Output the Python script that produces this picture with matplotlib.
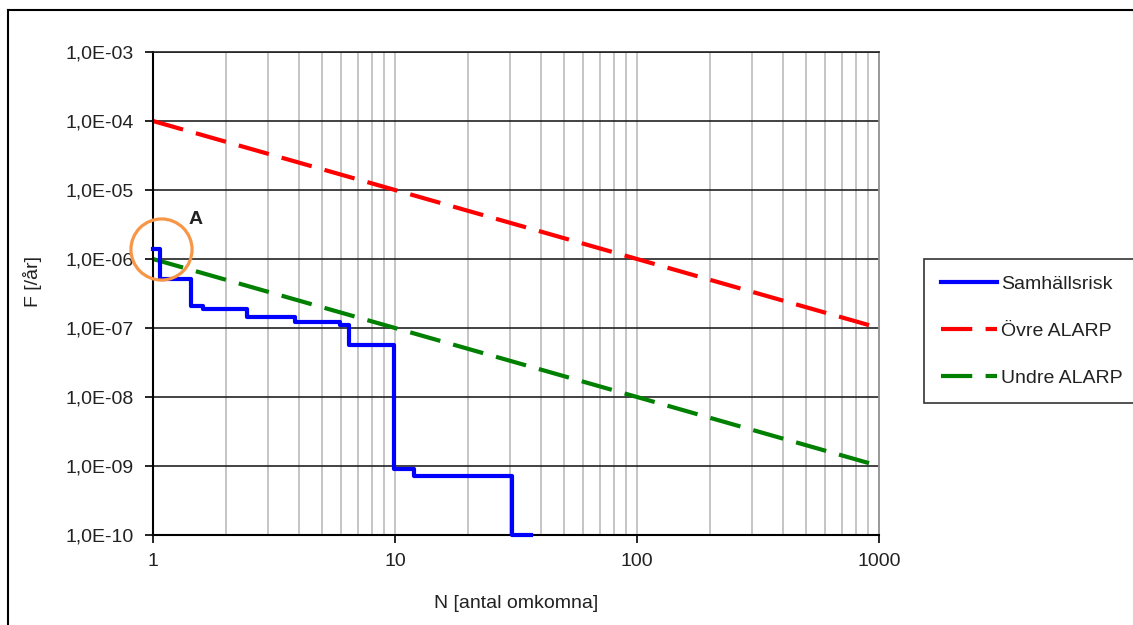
import numpy as np
import matplotlib.pyplot as plt
from matplotlib.lines import Line2D
from matplotlib.ticker import FixedLocator, FuncFormatter, NullLocator

plt.rcParams['font.family'] = ['Liberation Sans', 'DejaVu Sans']

# Samhällsrisk step curve (N edges, F per step)
risk_N = [1.0, 1.07, 1.44, 1.61, 2.44, 3.86, 5.93, 6.45, 9.9, 12.0, 30.3, 36.4]
risk_F = [1.38e-6, 5.1e-7, 2.1e-7, 1.86e-7, 1.46e-7, 1.22e-7, 1.1e-7, 5.6e-8,
          9.1e-10, 7.2e-10, 1.0e-10]

# ALARP limits
alarp_N = [1, 1000]
upper_F = [1e-4, 1e-7]
lower_F = [1e-6, 1e-9]

# marked point "A"
point_A = (1.079, 1.40e-6)
label_A = (1.505, 3.74e-6)

W, H = 1133, 625
fig = plt.figure(figsize=(W / 100, H / 100), dpi=100)
ax = fig.add_axes([153 / W, 1 - 535 / H, (879 - 153) / W, (535 - 52) / H])

ax.set_xscale('log')
ax.set_yscale('log')
ax.set_xlim(1, 1000)
ax.set_ylim(1e-10, 1e-3)

# grid: gray verticals at every minor/major x, black horizontals at decades
xgrid = [m * 10 ** e for e in range(0, 3) for m in range(2, 11)]
for xv in xgrid:
    if xv < 1000:
        ax.axvline(xv, color='#c0c0c0', lw=1.3, zorder=0)
for e in range(-9, -2):
    ax.axhline(10.0 ** e, color='#222222', lw=1.2, zorder=0.5)

ax.plot(risk_N, risk_F + [risk_F[-1]], drawstyle='steps-post', color='#0000ff',
        lw=3.0, label='Samhällsrisk', zorder=3, clip_on=False)
ax.plot(alarp_N, upper_F, color='#ff0000', lw=3.0, dashes=(7.5, 3.2),
        label='Övre ALARP', zorder=2)
ax.plot(alarp_N, lower_F, color='#008000', lw=3.0, dashes=(7.5, 3.2),
        label='Undre ALARP', zorder=2)

ax.plot([point_A[0]], [point_A[1]], marker='o', ms=44, mfc='none',
        mec='#f79646', mew=2.3, zorder=5, clip_on=False)
ax.text(label_A[0], label_A[1], 'A', fontsize=14, fontweight='bold',
        ha='center', va='center', color='#222222')

ax.xaxis.set_major_locator(FixedLocator([1, 10, 100, 1000]))
ax.xaxis.set_minor_locator(NullLocator())
ax.xaxis.set_major_formatter(FuncFormatter(lambda v, p: '%d' % round(v)))
ax.yaxis.set_major_locator(FixedLocator([10.0 ** e for e in range(-10, -2)]))
ax.yaxis.set_minor_locator(NullLocator())
ax.yaxis.set_major_formatter(
    FuncFormatter(lambda v, p: '1,0E-%02d' % round(-np.log10(v))))
ax.tick_params(axis='both', direction='out', length=6, width=1.2,
               labelsize=14, labelcolor='#222222', pad=8)
ax.tick_params(axis='x', pad=7)

for side in ['left', 'bottom']:
    ax.spines[side].set_color('#000000')
    ax.spines[side].set_linewidth(1.5)
ax.spines['top'].set_color('#222222')
ax.spines['top'].set_linewidth(1.2)
ax.spines['right'].set_color('#909090')
ax.spines['right'].set_linewidth(1.3)

ax.set_xlabel('N [antal omkomna]', fontsize=14, color='#222222')
ax.set_ylabel('F [/år]', fontsize=14, color='#222222')
ax.xaxis.set_label_coords(0.5, -0.124)
ax.yaxis.set_label_coords(-0.153, 0.524)

leg = fig.legend(loc='upper left', bbox_to_anchor=(924 / W, 1 - 259 / H),
                 fontsize=14, frameon=True, fancybox=False, handlelength=2.9,
                 handletextpad=0.2, labelspacing=1.5, borderpad=0.85,
                 borderaxespad=0)
leg.get_frame().set_edgecolor('#000000')
leg.get_frame().set_linewidth(1.2)
for t in leg.get_texts():
    t.set_color('#222222')

# outer frame of the chart object
fig.add_artist(Line2D([8 / W, 8 / W], [0, 1 - 10 / H], color='black', lw=1.5))
fig.add_artist(Line2D([8 / W, 1132 / W], [1 - 10 / H, 1 - 10 / H],
                      color='black', lw=1.5))

fig.savefig('out.png', dpi=100)
